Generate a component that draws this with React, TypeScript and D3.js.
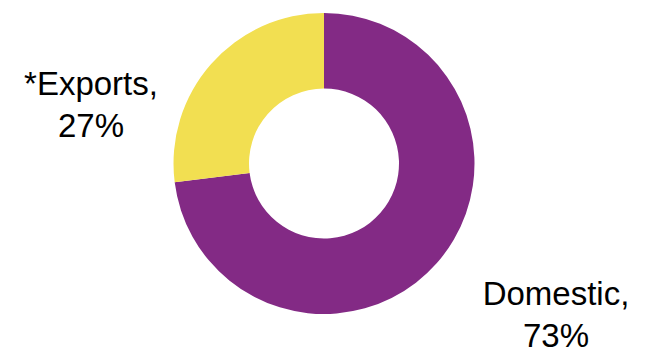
import React from "react";
import * as d3 from "d3";

const categories = ["Domestic", "*Exports"];
const values = [73, 27];
const colors = ["#832A85", "#F2DF51"];
const labelLines = [
  ["Domestic,", "73%"],
  ["*Exports,", "27%"],
];

const W = 654;
const H = 361;
const cx = 324;
const cy = 163.5;
const outerR = 150.5;
const innerR = 75;
const labelPos = [
  { x: 556, y: 305 },
  { x: 91, y: 95 },
];

export default function App() {
  const pie = d3.pie<number>().sort(null).value((d) => d)(values);
  const arc = d3.arc<d3.PieArcDatum<number>>().innerRadius(innerR).outerRadius(outerR);
  return (
    <svg
      width={W}
      height={H}
      style={{ position: "absolute", left: 0, top: 0, background: "#fff" }}
    >
      <g transform={`translate(${cx},${cy})`}>
        {pie.map((d, i) => (
          <path key={categories[i]} d={arc(d) || ""} fill={colors[i]} />
        ))}
      </g>
      {labelLines.map((lines, i) => (
        <text
          key={categories[i]}
          x={labelPos[i].x}
          y={labelPos[i].y}
          textAnchor="middle"
          fontFamily="'Liberation Sans', Arial, sans-serif"
          fontSize={33}
          fill="#000"
        >
          {lines.map((t, j) => (
            <tspan key={j} x={labelPos[i].x} dy={j === 0 ? 0 : 42}>
              {t}
            </tspan>
          ))}
        </text>
      ))}
    </svg>
  );
}
